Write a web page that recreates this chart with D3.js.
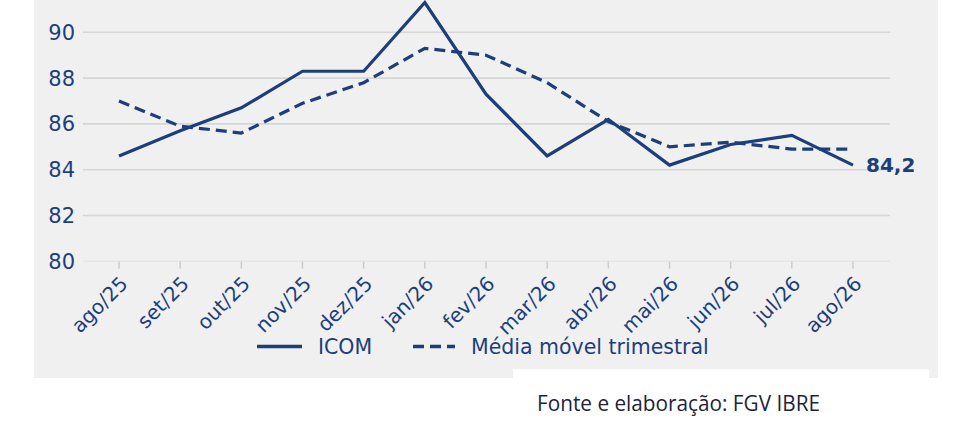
<!DOCTYPE html>
<html><head><meta charset="utf-8">
<script src="https://cdn.jsdelivr.net/npm/d3@7"></script>
<style>html,body{margin:0;padding:0;background:#fff;}svg{display:block;}</style>
</head><body>
<svg id="c" width="971" height="439"></svg>
<script>
const months = ["ago/25","set/25","out/25","nov/25","dez/25","jan/26","fev/26","mar/26","abr/26","mai/26","jun/26","jul/26","ago/26"];
const icom = [84.6,85.7,86.7,88.3,88.3,91.3,87.3,84.6,86.2,84.2,85.1,85.5,84.2];
const mediaMovel = [87.0,85.9,85.6,86.9,87.8,89.3,89.0,87.8,86.1,85.0,85.2,84.9,84.9];
const yTicks = [80,82,84,86,88,90];
const seriesNames = ["ICOM","Média móvel trimestral"];
const lastLabel = "84,2";
const source = "Fonte e elaboração: FGV IBRE";

const navy = "#1c3f7c";
const svg = d3.select("#c");
const font = "'DejaVu Sans', Verdana, sans-serif";

svg.append("rect").attr("x",34).attr("y",0).attr("width",904).attr("height",378).attr("fill","#f0f0f0");
svg.append("rect").attr("x",513).attr("y",369).attr("width",416).attr("height",70).attr("fill","#fff");

const x = d3.scalePoint().domain(months).range([119,853]);
const y = d3.scaleLinear().domain([80,90]).range([261.3,32.3]);

// grid
svg.append("g").selectAll("line").data(yTicks).join("line")
  .attr("x1",83).attr("x2",890)
  .attr("y1",d=>y(d)).attr("y2",d=>y(d))
  .attr("stroke",d=>d===80?"#e6e6e6":"#d6d6d6").attr("stroke-width",1.6);

// y labels
svg.append("g").selectAll("text").data(yTicks).join("text")
  .attr("x",75).attr("y",d=>y(d)).attr("dy","0.36em")
  .attr("text-anchor","end").attr("fill",navy)
  .style("font-family",font).style("font-size","21px")
  .text(d=>d);

// x ticks
svg.append("g").selectAll("line").data(months).join("line")
  .attr("x1",d=>x(d)).attr("x2",d=>x(d)).attr("y1",261.5).attr("y2",268.5)
  .attr("stroke","#cccccc").attr("stroke-width",1.5);

svg.append("g").selectAll("text").data(months).join("text")
  .attr("transform",d=>`translate(${x(d)+10},${285}) rotate(-45)`)
  .attr("text-anchor","end").attr("fill",navy)
  .style("font-family",font).style("font-size","20px")
  .text(d=>d);

const line = d3.line().x((d,i)=>x(months[i])).y(d=>y(d));

svg.append("path").datum(mediaMovel).attr("d",line)
  .attr("fill","none").attr("stroke",navy).attr("stroke-width",3.2)
  .attr("stroke-dasharray","11,6");
svg.append("path").datum(icom).attr("d",line)
  .attr("fill","none").attr("stroke",navy).attr("stroke-width",3.2)
  .attr("stroke-linejoin","miter");

svg.append("text").attr("x",x(months[months.length-1])+13).attr("y",y(icom[icom.length-1])).attr("dy","0.36em")
  .attr("fill",navy).style("font-family",font).style("font-size","20px").style("font-weight","bold")
  .text(lastLabel);

// legend
const lg = svg.append("g");
lg.append("line").attr("x1",257).attr("x2",302).attr("y1",346.5).attr("y2",346.5).attr("stroke",navy).attr("stroke-width",3.5);
lg.append("text").attr("x",318).attr("y",354).attr("fill",navy).style("font-family",font).style("font-size","20.5px").text(seriesNames[0]);
lg.append("line").attr("x1",413).attr("x2",455).attr("y1",346.5).attr("y2",346.5).attr("stroke",navy).attr("stroke-width",3.5).attr("stroke-dasharray","11,6");
lg.append("text").attr("x",471).attr("y",354).attr("fill",navy).style("font-family",font).style("font-size","20.5px").text(seriesNames[1]);

svg.append("text").attr("x",537).attr("y",411).attr("fill","#221f3c")
  .style("font-family","'Open Sans', 'Noto Sans', sans-serif").style("font-size","22px")
  .attr("textLength",283).attr("lengthAdjust","spacingAndGlyphs")
  .text(source);
</script>
</body></html>
